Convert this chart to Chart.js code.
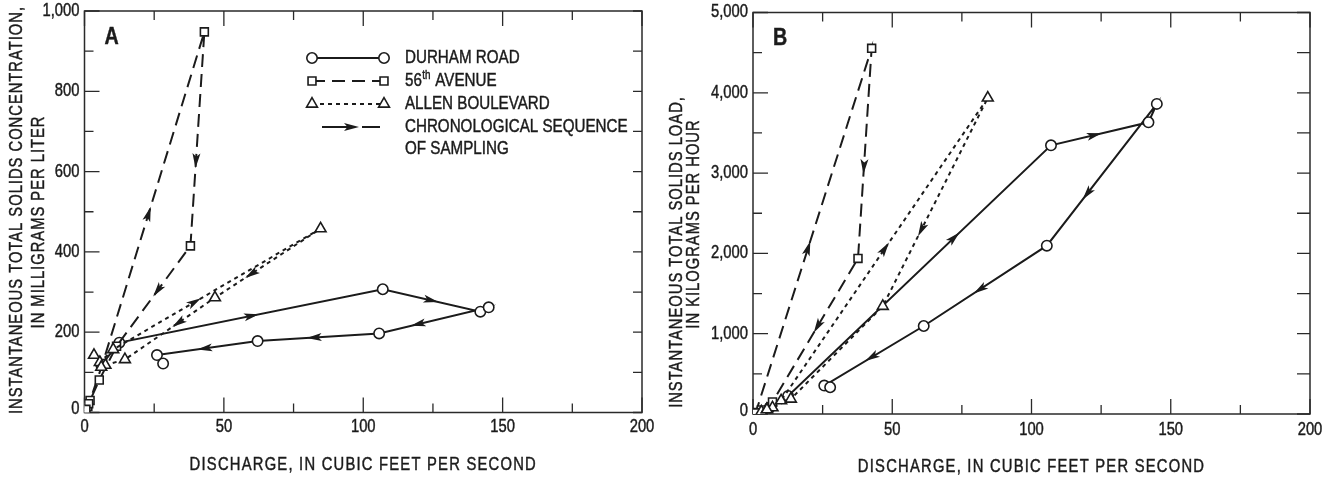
<!DOCTYPE html>
<html>
<head>
<meta charset="utf-8">
<script src="https://cdn.jsdelivr.net/npm/chart.js@4.4.1/dist/chart.umd.min.js"></script>
<style>
  html, body { margin: 0; padding: 0; background: #fff; }
  #wrap { display: flex; width: 1336px; height: 480px; }
  canvas { display: block; }
</style>
</head>
<body>
<div id="wrap">
  <canvas id="c-conc" width="668" height="480"></canvas>
  <canvas id="c-load" width="668" height="480"></canvas>
</div>
<script>
// tick values
const xTicks = [0, 50, 100, 150, 200];
const xMinorTicks = [25, 75, 125, 175];
const concTicks = [0, 200, 400, 600, 800, 1000];
const concMinorTicks = [100, 300, 500, 700, 900];
const loadTicks = [0, 1000, 2000, 3000, 4000, 5000];
const loadMinorTicks = [500, 1500, 2500, 3500, 4500];

// labels
const seriesNames = ['DURHAM ROAD', '56th AVENUE', 'ALLEN BOULEVARD'];
const sequenceLabel = ['CHRONOLOGICAL SEQUENCE', 'OF SAMPLING'];
const xTitle = 'DISCHARGE, IN CUBIC FEET PER SECOND';
const concTitle = ['INSTANTANEOUS TOTAL SOLIDS CONCENTRATION,', 'IN MILLIGRAMS PER LITER'];
const loadTitle = ['INSTANTANEOUS TOTAL SOLIDS LOAD,', 'IN KILOGRAMS PER HOUR'];

// panel A: concentration (mg/L) vs discharge (cfs), in sampling order
const durhamConc = [[6, 118], [12.5, 174], [107, 307], [142, 251], [145, 262], [105.7, 197], [62.1, 178], [26, 143], [28.2, 122]];
const avenueConc = [[0.3, 3], [1.2, 15], [2, 30], [6.5, 122], [43, 948], [38, 415], [11.5, 165], [5.3, 81], [1.5, 22], [0.5, 8]];
const allenConc = [[3.4, 143], [5.5, 125], [10.3, 157], [84.7, 458], [46.8, 286], [14.5, 132], [7.5, 118], [6, 113]];
// arrowheads: [segment index, position along segment]
const durhamConcArrows = [[1, 0.5], [2, 0.49], [4, 0.64], [5, 0.53], [6, 0.52]];
const avenueConcArrows = [[3, 0.45], [4, 0.6], [5, 0.44]];
const allenConcArrows = [[2, 0.39], [3, 0.65], [4, 0.4]];

// panel B: load (kg/h) vs discharge (cfs)
const durhamLoad = [[6, 80], [12.6, 225], [107, 3346], [142, 3633], [145, 3862], [105.5, 2096], [61.3, 1096], [25.6, 354], [27.7, 333]];
const avenueLoad = [[0.3, 5], [1, 20], [42.6, 4554], [37.7, 1937], [7, 150], [3, 50], [1, 15]];
const allenLoad = [[3, 30], [5, 60], [10.1, 167], [84.3, 3937], [46.6, 1342], [13.6, 187], [7, 80], [5, 55]];
const durhamLoadArrows = [[1, 0.63], [2, 0.44], [4, 0.63], [5, 0.54], [6, 0.52]];
const avenueLoadArrows = [[1, 0.45], [2, 0.56], [3, 0.47]];
const allenLoadArrows = [[2, 0.5], [3, 0.63]];

const SANS = "'Liberation Sans', Arial, sans-serif";
const SQUEEZE = 0.82; // Liberation Sans squeezed to look like a condensed face
const INK = '#1b1b1b';

const xy = pts => pts.map(p => ({ x: p[0], y: p[1] }));

function makeDatasets(dur, ave, all, aDur, aAve, aAll) {
    const common = {
        showLine: true, borderColor: INK, borderWidth: 2, tension: 0,
        pointBackgroundColor: '#fff', pointBorderColor: INK, pointBorderWidth: 1.6,
        pointHoverRadius: 0
    };
    return [
        { ...common, label: seriesNames[2], data: xy(all), borderDash: [4, 4], pointStyle: 'triangle', pointRadius: 6.3, arrows: aAll },
        { ...common, label: seriesNames[1], data: xy(ave), borderDash: [13, 7], pointStyle: 'rect', pointRadius: 5.6, arrows: aAve },
        { ...common, label: seriesNames[0], data: xy(dur), pointStyle: 'circle', pointRadius: 5.2, arrows: aDur }
    ];
}

function arrowHead(ctx, x, y, ang) {
    ctx.save();
    ctx.translate(x, y);
    ctx.rotate(ang);
    ctx.beginPath();
    ctx.moveTo(8, 0);
    ctx.lineTo(-7, -4);
    ctx.lineTo(-3.5, 0);
    ctx.lineTo(-7, 4);
    ctx.closePath();
    ctx.fill();
    ctx.restore();
}

// condensed text, slightly thickened
function nText(ctx, text, x, y, size, align, opts = {}) {
    ctx.save();
    ctx.translate(x, y);
    if (opts.rotate) ctx.rotate(opts.rotate);
    ctx.scale(SQUEEZE, 1);
    ctx.font = (opts.weight || '') + ' ' + size + 'px ' + SANS;
    ctx.letterSpacing = (opts.spacing || 0) + 'px';
    ctx.textAlign = align;
    ctx.textBaseline = 'middle';
    ctx.fillStyle = INK;
    ctx.strokeStyle = INK;
    ctx.lineWidth = 0.45;
    ctx.fillText(text, 0, 0);
    ctx.strokeText(text, 0, 0);
    const w = ctx.measureText(text).width * SQUEEZE;
    ctx.restore();
    return w;
}

// box + inward ticks on all four sides
const framePlugin = {
    id: 'frame',
    beforeDatasetsDraw(chart, args, o) {
        const { ctx, chartArea: a } = chart;
        const sx = chart.scales.x, sy = chart.scales.y;
        ctx.save();
        ctx.strokeStyle = '#2a2a2a';
        ctx.lineWidth = 1.5;
        ctx.strokeRect(a.left, a.top, a.right - a.left, a.bottom - a.top);
        ctx.lineWidth = 1.3;
        ctx.beginPath();
        [[xTicks, 15], [xMinorTicks, 9]].forEach(([vals, len]) => vals.forEach(v => {
            const px = sx.getPixelForValue(v);
            ctx.moveTo(px, a.bottom); ctx.lineTo(px, a.bottom - len);
            ctx.moveTo(px, a.top); ctx.lineTo(px, a.top + len);
        }));
        [[o.major, 15], [o.minor, 9]].forEach(([vals, len]) => vals.forEach(v => {
            const py = sy.getPixelForValue(v);
            ctx.moveTo(a.left, py); ctx.lineTo(a.left + len, py);
            ctx.moveTo(a.right, py); ctx.lineTo(a.right - o.rightTick, py);
        }));
        ctx.stroke();
        ctx.restore();
    }
};

// chronological arrowheads along the lines
const arrowPlugin = {
    id: 'arrows',
    afterDatasetsDraw(chart) {
        const ctx = chart.ctx;
        ctx.save();
        ctx.fillStyle = INK;
        chart.data.datasets.forEach((ds, i) => {
            const pts = chart.getDatasetMeta(i).data;
            (ds.arrows || []).forEach(([seg, t]) => {
                const p0 = pts[seg], p1 = pts[seg + 1];
                const x = p0.x + (p1.x - p0.x) * t;
                const y = p0.y + (p1.y - p0.y) * t;
                arrowHead(ctx, x, y, Math.atan2(p1.y - p0.y, p1.x - p0.x));
            });
        });
        ctx.restore();
    }
};

function marker(ctx, ds, x, y) {
    ctx.save();
    ctx.setLineDash([]);
    ctx.fillStyle = '#fff';
    ctx.strokeStyle = INK;
    ctx.lineWidth = 1.6;
    Chart.helpers.drawPoint(ctx, { pointStyle: ds.pointStyle, radius: ds.pointRadius, borderWidth: 1.6, rotation: 0 }, x, y);
    ctx.restore();
}

const fmt = v => v.toLocaleString('en-US');

// tick labels, titles, panel letter, legend
const textPlugin = {
    id: 'texts',
    afterDraw(chart, args, o) {
        const { ctx, chartArea: a } = chart;
        const sx = chart.scales.x, sy = chart.scales.y;
        ctx.save();

        sx.ticks.forEach(t => nText(ctx, fmt(t.value), sx.getPixelForValue(t.value), a.bottom + o.xLabelGap, 18, 'center'));
        sy.ticks.forEach(t => nText(ctx, fmt(t.value), a.left - 5, sy.getPixelForValue(t.value) - (t.value === 0 ? 3 : 0), 18, 'right'));

        o.yTitle.forEach((t, i) => nText(ctx, t, o.yTitleX[i], o.yTitleY[i], 18, 'center', { rotate: -Math.PI / 2, spacing: 1.2 }));
        nText(ctx, xTitle, (a.left + a.right) / 2, o.xTitleY, 18, 'center', { spacing: 1.5 });
        nText(ctx, o.letter, a.left + 27, a.top + 26, 24, 'center', { weight: 'bold' });

        if (o.legend) {
            const rows = [58, 81, 104];
            const x0 = 312, x1 = 384, tx = 405;
            seriesNames.forEach((name, r) => {
                const ds = chart.data.datasets.find(d => d.label === name);
                const y = rows[r];
                ctx.save();
                ctx.strokeStyle = INK;
                ctx.lineWidth = 2;
                ctx.setLineDash(ds.borderDash || []);
                ctx.beginPath();
                ctx.moveTo(x0, y); ctx.lineTo(x1, y);
                ctx.stroke();
                ctx.restore();
                marker(ctx, ds, x0, y);
                marker(ctx, ds, x1, y);
                if (name.startsWith('56th')) {
                    let w = nText(ctx, '56', tx, y, 18.5, 'left');
                    w += nText(ctx, 'th', tx + w + 0.5, y - 5, 12, 'left') + 1;
                    nText(ctx, name.slice(4), tx + w, y, 18.5, 'left');
                } else {
                    nText(ctx, name, tx, y, 18.5, 'left');
                }
            });
            const ys = 127;
            ctx.strokeStyle = INK;
            ctx.fillStyle = INK;
            ctx.lineWidth = 2;
            ctx.beginPath();
            ctx.moveTo(322, ys); ctx.lineTo(348, ys);
            ctx.moveTo(362, ys); ctx.lineTo(380, ys);
            ctx.stroke();
            arrowHead(ctx, 351, ys, 0);
            nText(ctx, sequenceLabel[0], tx, ys, 18.5, 'left');
            nText(ctx, sequenceLabel[1], tx, ys + 22, 18.5, 'left');
        }
        ctx.restore();
    }
};

function makeChart(id, datasets, yMax, yMajor, yMinor, area, texts, rightTick) {
    const yW = 60, xH = 40;
    return new Chart(document.getElementById(id), {
        type: 'scatter',
        data: { datasets },
        plugins: [framePlugin, arrowPlugin, textPlugin],
        options: {
            responsive: false, animation: false, devicePixelRatio: 1,
            layout: { padding: { left: area.left - yW, right: 668 - area.right, top: area.top, bottom: 480 - area.bottom - xH } },
            scales: {
                x: {
                    type: 'linear', min: 0, max: 200,
                    afterBuildTicks: s => { s.ticks = xTicks.map(v => ({ value: v })); },
                    afterFit: s => { s.height = xH; },
                    grid: { display: false, drawTicks: false },
                    border: { display: false },
                    ticks: { display: false }
                },
                y: {
                    type: 'linear', min: 0, max: yMax,
                    afterBuildTicks: s => { s.ticks = yMajor.map(v => ({ value: v })); },
                    afterFit: s => { s.width = yW; },
                    grid: { display: false, drawTicks: false },
                    border: { display: false },
                    ticks: { display: false }
                }
            },
            plugins: {
                legend: { display: false },
                tooltip: { enabled: false },
                frame: { major: yMajor, minor: yMinor, rightTick },
                texts
            }
        }
    });
}

makeChart('c-conc',
    makeDatasets(durhamConc, avenueConc, allenConc, durhamConcArrows, avenueConcArrows, allenConcArrows),
    1000, concTicks, concMinorTicks,
    { left: 84.5, right: 642, top: 11, bottom: 412.5 },
    { yTitle: concTitle, yTitleX: [17, 39], yTitleY: [210, 222], xTitleY: 465, xLabelGap: 15, letter: 'A', legend: true },
    9);

makeChart('c-load',
    makeDatasets(durhamLoad, avenueLoad, allenLoad, durhamLoadArrows, avenueLoadArrows, allenLoadArrows),
    5000, loadTicks, loadMinorTicks,
    { left: 85, right: 642, top: 12.5, bottom: 414 },
    { yTitle: loadTitle, yTitleX: [9, 26], yTitleY: [252, 224], xTitleY: 467, xLabelGap: 16, letter: 'B', legend: false },
    13);
</script>
</body>
</html>
